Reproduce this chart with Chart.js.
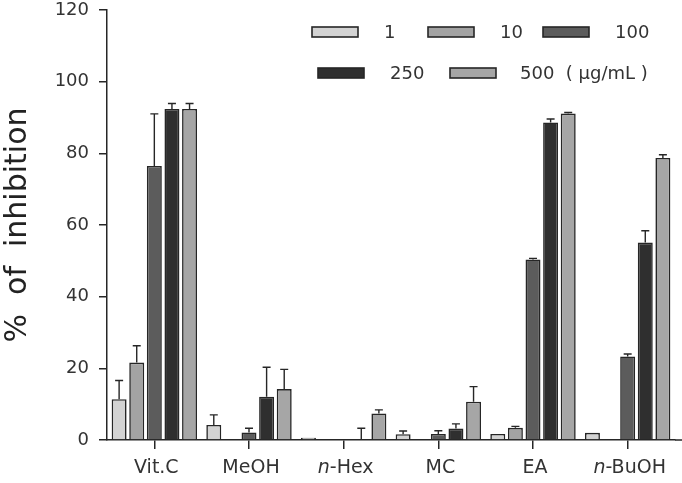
<!DOCTYPE html>
<html>
<head>
<meta charset="utf-8">
<script src="https://cdn.jsdelivr.net/npm/chart.js@4.4.1/dist/chart.umd.min.js"></script>
<style>
  html, body { margin: 0; padding: 0; background: #fff; }
  #wrap { width: 682px; height: 483px; }
</style>
</head>
<body>
<div id="wrap"><canvas id="myChart" width="682" height="483"></canvas></div>
<script>
// data
const categories = ["Vit.C", "MeOH", "n-Hex", "MC", "EA", "n-BuOH"];
const seriesNames = ["1", "10", "100", "250", "500  ( \u00b5g/mL )"];

const conc1 = [11.4, 4.2, 0.6, 1.6, 1.7, 2.0];
const conc10 = [21.6, null, null, null, 3.4, null];
const conc100 = [76.5, 2.1, null, 1.7, 50.4, 23.3];
const conc250 = [92.4, 12.1, 0, 3.2, 88.6, 55.1];
const conc500 = [92.4, 14.2, 7.4, 10.7, 91.1, 78.7];

const err1 = [5.2, 2.8, 0, 0.9, 0, 0];
const err10 = [4.7, 0, 0, 0, 0.4, 0];
const err100 = [14.5, 1.2, 0, 0.9, 0.3, 0.7];
const err250 = [1.5, 8.2, 3.3, 1.3, 1.0, 3.3];
const err500 = [1.5, 5.5, 1.0, 4.2, 0.3, 0.9];

const yTicks = [0, 20, 40, 60, 80, 100, 120];

const fills = ["#d3d3d3", "#a3a3a3", "#5c5c5c", "#2f2f2f", "#a6a6a6"];
const values = [conc1, conc10, conc100, conc250, conc500];
const errors = [err1, err10, err100, err250, err500];

const FONT = "'DejaVu Sans', Verdana, sans-serif";
const INK = "#262626";

// upward error bars with caps
const errorBars = {
   id: "errorBars",
   afterDatasetsDraw(chart) {
      const c = chart.ctx;
      const y = chart.scales.y;
      c.save();
      c.strokeStyle = INK;
      c.lineWidth = 1.4;
      chart.data.datasets.forEach((ds, di) => {
         const meta = chart.getDatasetMeta(di);
         meta.data.forEach((bar, i) => {
            const v = ds.data[i];
            const e = ds.errors[i];
            if (v == null || !e) return;
            const top = y.getPixelForValue(v + e);
            c.beginPath();
            c.moveTo(bar.x, bar.y);
            c.lineTo(bar.x, top);
            c.moveTo(bar.x - 4, top);
            c.lineTo(bar.x + 4, top);
            c.stroke();
         });
      });
      c.restore();
   }
};

// legend boxes inside the plot, x labels with italic prefix
const extras = {
   id: "extras",
   afterDraw(chart) {
      const c = chart.ctx;
      const spots = [[312, 32, 384], [428, 32, 500], [543, 32, 615], [318, 73, 390], [450, 73, 520]];
      c.save();
      c.font = "18px " + FONT;
      c.textBaseline = "middle";
      chart.data.datasets.forEach((ds, i) => {
         const s = spots[i];
         c.fillStyle = ds.backgroundColor;
         c.strokeStyle = INK;
         c.lineWidth = 1.6;
         c.fillRect(s[0], s[1] - 5, 46, 10);
         c.strokeRect(s[0], s[1] - 5, 46, 10);
         c.fillStyle = "#333";
         c.textAlign = "left";
         c.fillText(ds.label, s[2], s[1] + 1);
      });

      // x labels
      const x = chart.scales.x;
      c.font = "19px " + FONT;
      c.fillStyle = "#333";
      categories.forEach((lab, i) => {
         const px = x.getPixelForValue(i) + 2;
         const py = 468;
         if (lab.startsWith("n-")) {
            const rest = lab.slice(1);
            c.font = "italic 19px " + FONT;
            const w1 = c.measureText("n").width;
            c.font = "19px " + FONT;
            const w2 = c.measureText(rest).width;
            const x0 = px - (w1 + w2) / 2;
            c.textAlign = "left";
            c.font = "italic 19px " + FONT;
            c.fillText("n", x0, py);
            c.font = "19px " + FONT;
            c.fillText(rest, x0 + w1, py);
         } else {
            c.textAlign = "center";
            c.fillText(lab, px, py);
         }
      });

      // axis line runs to the right edge
      c.strokeStyle = INK;
      c.lineWidth = 1.5;
      c.beginPath();
      c.moveTo(chart.chartArea.right, chart.chartArea.bottom);
      c.lineTo(chart.width, chart.chartArea.bottom);
      c.stroke();
      c.restore();
   }
};

const ctx = document.getElementById("myChart");

let chart = new Chart(ctx, {
   type: "bar",
   data: {
      labels: categories,
      datasets: values.map((d, i) => ({
         label: seriesNames[i],
         data: d,
         errors: errors[i],
         backgroundColor: fills[i],
         borderColor: INK,
         borderWidth: 1.6,
         borderSkipped: "bottom",
         barPercentage: 0.85,
         categoryPercentage: 0.93
      }))
   },
   options: {
      responsive: false,
      animation: false,
      layout: { padding: { top: 10, right: 7, left: 0, bottom: 0 } },
      plugins: {
         legend: { display: false },
         tooltip: { enabled: false }
      },
      scales: {
         x: {
            offset: true,
            grid: {
               offset: false,
               drawOnChartArea: false,
               drawTicks: true,
               tickLength: 9,
               color: INK,
               lineWidth: 1.5
            },
            border: { color: INK, width: 1.5 },
            ticks: { display: false },
            afterFit: (s) => { s.height = 43; }
         },
         y: {
            min: 0,
            max: 120,
            afterBuildTicks: (s) => { s.ticks = yTicks.map((v) => ({ value: v })); },
            grid: {
               drawOnChartArea: false,
               drawTicks: true,
               tickLength: 8,
               color: INK,
               lineWidth: 1.5
            },
            border: { color: INK, width: 1.5 },
            ticks: {
               padding: 10,
               color: "#333",
               font: { family: FONT, size: 18 }
            },
            title: {
               display: true,
               text: "%  of  inhibition",
               color: "#222",
               font: { family: FONT, size: 30 },
               padding: { top: 0, bottom: 0 }
            },
            afterFit: (s) => {
               s.width = 107;
               s.paddingTop = 0;
               s.paddingBottom = 0;
            }
         }
      }
   },
   plugins: [errorBars, extras]
});
</script>
</body>
</html>
